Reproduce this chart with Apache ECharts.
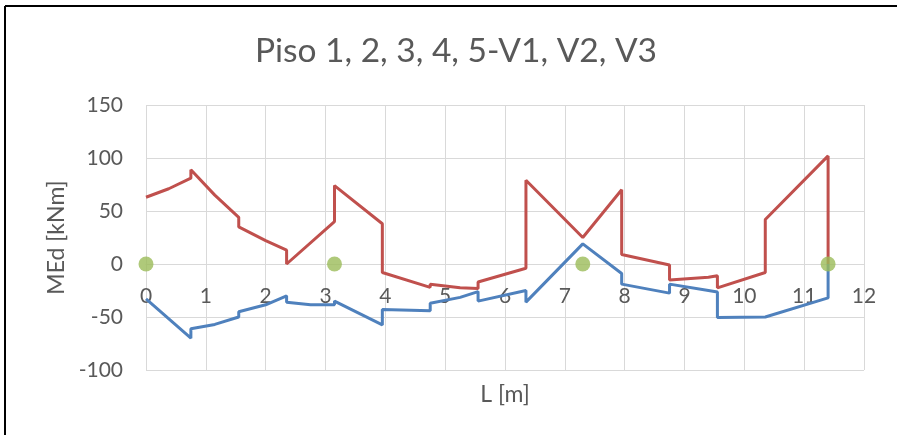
<!DOCTYPE html>
<html>
<head>
<meta charset="utf-8">
<script src="https://cdn.jsdelivr.net/npm/echarts@6/dist/echarts.min.js"></script>
<style>html,body{margin:0;padding:0;background:#fff;}#c{width:897px;height:435px;}</style>
</head>
<body>
<div id="c"></div>
<script>
// Positive moment envelope (red)
var redX = [0, 0.38, 0.75, 0.75, 1.15, 1.55, 1.55, 2.0, 2.35, 2.35, 3.15, 3.15, 3.95, 3.95, 4.75, 4.75, 5.25, 5.55, 5.55, 6.35, 6.35, 7.3, 7.95, 7.95, 8.75, 8.75, 9.4, 9.55, 9.55, 10.35, 10.35, 11.4, 11.4];
var redY = [63, 71, 81, 89, 65, 44, 35, 22, 13, 0, 40, 74, 38, -8, -22, -19, -22.5, -23, -17, -4, 79, 25, 70, 9, -1, -15, -12.5, -11, -22.5, -8, 42, 102, 0];
// Negative moment envelope (blue)
var blueX = [0, 0.75, 0.75, 1.15, 1.55, 1.55, 2.0, 2.35, 2.35, 2.75, 3.15, 3.15, 3.95, 3.95, 4.75, 4.75, 5.25, 5.55, 5.55, 6.35, 6.35, 7.3, 7.95, 7.95, 8.75, 8.75, 9.4, 9.55, 9.55, 10.35, 11.4, 11.4];
var blueY = [-33, -70, -61, -57, -50, -45, -38.5, -30, -36, -38.5, -38.5, -35, -57.5, -43, -44, -37, -31.5, -26, -35, -25, -36, 19, -9, -19, -27.5, -19, -25, -26.5, -50.5, -50, -32, 0];
// Supports (green)
var supX = [0, 3.15, 7.3, 11.4];
var supY = [0, 0, 0, 0];

function pairs(xs, ys) { return xs.map(function (x, i) { return [x, ys[i]]; }); }

var txt = '#595959';
var font = 'Lato, "Open Sans", sans-serif';
var chart = echarts.init(document.getElementById('c'), null, {renderer: 'canvas'});
chart.setOption({
  backgroundColor: '#fff',
  animation: false,
  title: {
    text: 'Piso 1, 2, 3, 4, 5-V1, V2, V3',
    left: 451, top: 29, textAlign: 'center',
    textStyle: {color: txt, fontFamily: font, fontWeight: 'normal', fontSize: 33.5}
  },
  grid: {left: 146, right: 33, top: 105, bottom: 65, containLabel: false, outerBoundsMode: 'none'},
  xAxis: {
    type: 'value', min: 0, max: 12, interval: 1,
    position: 'bottom', offset: -106,
    name: 'L [m]', nameLocation: 'middle', nameGap: 119,
    nameTextStyle: {color: txt, fontFamily: font, fontSize: 23},
    axisLine: {show: true, onZero: false, lineStyle: {color: '#d9d9d9', width: 1}},
    axisTick: {show: false},
    axisLabel: {color: txt, fontFamily: font, fontSize: 21, margin: 22},
    splitLine: {show: true, lineStyle: {color: '#d9d9d9', width: 1}}
  },
  yAxis: {
    type: 'value', min: -100, max: 150, interval: 50,
    name: 'MEd [kNm]', nameLocation: 'middle', nameGap: 54, nameRotate: 90,
    nameTextStyle: {color: txt, fontFamily: font, fontSize: 23},
    axisLine: {show: false},
    axisTick: {show: false},
    axisLabel: {color: txt, fontFamily: font, fontSize: 21, margin: 23},
    splitLine: {show: true, lineStyle: {color: '#d9d9d9', width: 1}}
  },
  series: [
    {type: 'line', data: pairs(blueX, blueY), symbol: 'none', lineStyle: {color: '#4F81BD', width: 3}, itemStyle: {color: '#4F81BD'}, z: 3},
    {type: 'line', data: pairs(redX, redY), symbol: 'none', lineStyle: {color: '#C0504D', width: 3}, itemStyle: {color: '#C0504D'}, z: 3},
    {type: 'scatter', data: pairs(supX, supY), symbol: 'circle', symbolSize: 15, itemStyle: {color: '#9BBB59'}, z: 5}
  ],
  graphic: [
    {type: 'line', shape: {x1: 5, y1: 6, x2: 897, y2: 6}, style: {stroke: '#000', lineWidth: 2}},
    {type: 'line', shape: {x1: 5, y1: 6, x2: 5, y2: 435}, style: {stroke: '#000', lineWidth: 2}}
  ]
});
</script>
</body>
</html>
